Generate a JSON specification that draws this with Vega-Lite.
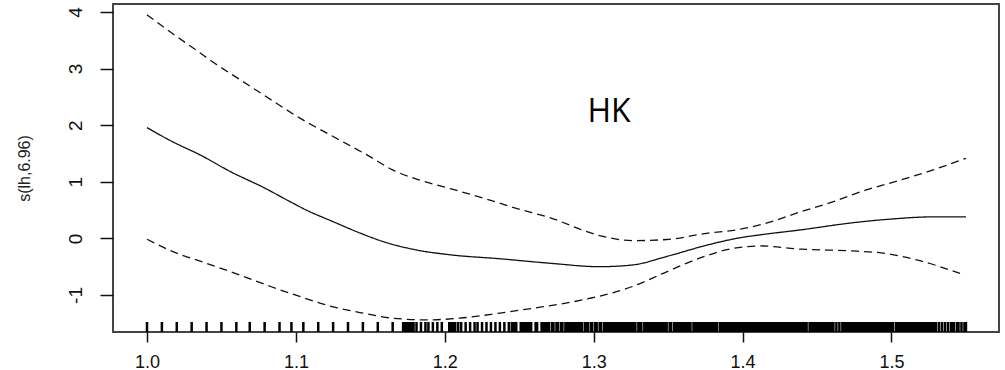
{
  "$schema": "https://vega.github.io/schema/vega-lite/v6.json",
  "width": 886,
  "height": 328,
  "autosize": "none",
  "padding": {"left": 113, "top": 4, "right": 6, "bottom": 38},
  "background": "white",
  "config": {
    "view": {"stroke": "#444", "strokeWidth": 2},
    "axis": {"grid": false, "domain": false},
    "font": "Liberation Sans"
  },
  "datasets": {
    "curves": [
      {"lh": 1.000, "s": 1.956, "band": "fit"},
      {"lh": 1.017, "s": 1.71, "band": "fit"},
      {"lh": 1.036, "s": 1.47, "band": "fit"},
      {"lh": 1.056, "s": 1.18, "band": "fit"},
      {"lh": 1.079, "s": 0.89, "band": "fit"},
      {"lh": 1.096, "s": 0.65, "band": "fit"},
      {"lh": 1.107, "s": 0.50, "band": "fit"},
      {"lh": 1.125, "s": 0.295, "band": "fit"},
      {"lh": 1.143, "s": 0.095, "band": "fit"},
      {"lh": 1.159, "s": -0.06, "band": "fit"},
      {"lh": 1.181, "s": -0.205, "band": "fit"},
      {"lh": 1.2035, "s": -0.29, "band": "fit"},
      {"lh": 1.237, "s": -0.36, "band": "fit"},
      {"lh": 1.271, "s": -0.44, "band": "fit"},
      {"lh": 1.304, "s": -0.50, "band": "fit"},
      {"lh": 1.326, "s": -0.47, "band": "fit"},
      {"lh": 1.349, "s": -0.32, "band": "fit"},
      {"lh": 1.376, "s": -0.12, "band": "fit"},
      {"lh": 1.398, "s": 0.01, "band": "fit"},
      {"lh": 1.414, "s": 0.07, "band": "fit"},
      {"lh": 1.439, "s": 0.15, "band": "fit"},
      {"lh": 1.472, "s": 0.27, "band": "fit"},
      {"lh": 1.499, "s": 0.34, "band": "fit"},
      {"lh": 1.528, "s": 0.38, "band": "fit"},
      {"lh": 1.550, "s": 0.38, "band": "fit"},
      {"lh": 1.000, "s": 3.95, "band": "upper"},
      {"lh": 1.0155, "s": 3.65, "band": "upper"},
      {"lh": 1.036, "s": 3.27, "band": "upper"},
      {"lh": 1.044, "s": 3.12, "band": "upper"},
      {"lh": 1.0645, "s": 2.77, "band": "upper"},
      {"lh": 1.085, "s": 2.42, "band": "upper"},
      {"lh": 1.103, "s": 2.12, "band": "upper"},
      {"lh": 1.125, "s": 1.80, "band": "upper"},
      {"lh": 1.148, "s": 1.47, "band": "upper"},
      {"lh": 1.165, "s": 1.21, "band": "upper"},
      {"lh": 1.183, "s": 1.03, "band": "upper"},
      {"lh": 1.2035, "s": 0.88, "band": "upper"},
      {"lh": 1.226, "s": 0.71, "band": "upper"},
      {"lh": 1.248, "s": 0.53, "band": "upper"},
      {"lh": 1.270, "s": 0.37, "band": "upper"},
      {"lh": 1.304, "s": 0.05, "band": "upper"},
      {"lh": 1.326, "s": -0.04, "band": "upper"},
      {"lh": 1.349, "s": -0.02, "band": "upper"},
      {"lh": 1.376, "s": 0.09, "band": "upper"},
      {"lh": 1.398, "s": 0.16, "band": "upper"},
      {"lh": 1.416, "s": 0.27, "band": "upper"},
      {"lh": 1.439, "s": 0.47, "band": "upper"},
      {"lh": 1.461, "s": 0.65, "band": "upper"},
      {"lh": 1.483, "s": 0.855, "band": "upper"},
      {"lh": 1.506, "s": 1.03, "band": "upper"},
      {"lh": 1.528, "s": 1.21, "band": "upper"},
      {"lh": 1.550, "s": 1.415, "band": "upper"},
      {"lh": 1.000, "s": -0.016, "band": "lower"},
      {"lh": 1.0175, "s": -0.235, "band": "lower"},
      {"lh": 1.040, "s": -0.44, "band": "lower"},
      {"lh": 1.0625, "s": -0.65, "band": "lower"},
      {"lh": 1.083, "s": -0.85, "band": "lower"},
      {"lh": 1.103, "s": -1.03, "band": "lower"},
      {"lh": 1.125, "s": -1.21, "band": "lower"},
      {"lh": 1.143, "s": -1.31, "band": "lower"},
      {"lh": 1.165, "s": -1.41, "band": "lower"},
      {"lh": 1.188, "s": -1.44, "band": "lower"},
      {"lh": 1.210, "s": -1.41, "band": "lower"},
      {"lh": 1.237, "s": -1.32, "band": "lower"},
      {"lh": 1.259, "s": -1.235, "band": "lower"},
      {"lh": 1.282, "s": -1.14, "band": "lower"},
      {"lh": 1.304, "s": -1.02, "band": "lower"},
      {"lh": 1.326, "s": -0.85, "band": "lower"},
      {"lh": 1.349, "s": -0.59, "band": "lower"},
      {"lh": 1.371, "s": -0.35, "band": "lower"},
      {"lh": 1.394, "s": -0.175, "band": "lower"},
      {"lh": 1.412, "s": -0.134, "band": "lower"},
      {"lh": 1.439, "s": -0.19, "band": "lower"},
      {"lh": 1.472, "s": -0.22, "band": "lower"},
      {"lh": 1.494, "s": -0.26, "band": "lower"},
      {"lh": 1.517, "s": -0.38, "band": "lower"},
      {"lh": 1.546, "s": -0.62, "band": "lower"}
    ],
    "rug": [
      {"lh":1.000},{"lh":1.010},{"lh":1.020},{"lh":1.030},{"lh":1.040},{"lh":1.050},{"lh":1.060},{"lh":1.069},{"lh":1.079},{"lh":1.089},{"lh":1.097},{"lh":1.105},{"lh":1.115},{"lh":1.125},{"lh":1.135},{"lh":1.145},{"lh":1.155},{"lh":1.165},
      {"lh":1.172},{"lh":1.173},{"lh":1.174},{"lh":1.175},{"lh":1.176},{"lh":1.177},{"lh":1.178},{"lh":1.179},
      {"lh":1.181},{"lh":1.184},{"lh":1.187},{"lh":1.189},{"lh":1.192},{"lh":1.195},{"lh":1.198},
      {"lh":1.203},{"lh":1.204},{"lh":1.205},{"lh":1.206},{"lh":1.207},
      {"lh":1.209},{"lh":1.211},{"lh":1.214},{"lh":1.217},{"lh":1.220},{"lh":1.222},{"lh":1.225},{"lh":1.228},{"lh":1.231},{"lh":1.234},{"lh":1.237},{"lh":1.240},{"lh":1.243},
      {"lh":1.245},{"lh":1.246},{"lh":1.247},{"lh":1.248},
      {"lh":1.251},{"lh":1.252},{"lh":1.253},{"lh":1.254},{"lh":1.255},{"lh":1.256},{"lh":1.257},{"lh":1.258},
      {"lh":1.261},{"lh":1.262},
      {"lh":1.265},{"lh":1.266},{"lh":1.267},{"lh":1.268},
      {"lh":1.269},{"lh":1.270},{"lh":1.272},{"lh":1.273},{"lh":1.275},{"lh":1.276},{"lh":1.278},{"lh":1.279},{"lh":1.281},{"lh":1.282},{"lh":1.283},{"lh":1.284},{"lh":1.285},{"lh":1.286},{"lh":1.287},{"lh":1.288},{"lh":1.289},{"lh":1.290},{"lh":1.291},{"lh":1.292},{"lh":1.294},{"lh":1.295},{"lh":1.296},{"lh":1.298},{"lh":1.299},{"lh":1.301},{"lh":1.302},{"lh":1.304},{"lh":1.305},{"lh":1.307},{"lh":1.308},{"lh":1.309},
      {"lh":1.310},{"lh":1.311},{"lh":1.312},{"lh":1.313},{"lh":1.314},{"lh":1.315},{"lh":1.316},{"lh":1.317},{"lh":1.318},{"lh":1.319},{"lh":1.320},{"lh":1.321},{"lh":1.322},{"lh":1.323},{"lh":1.324},{"lh":1.325},{"lh":1.326},{"lh":1.327},{"lh":1.328},{"lh":1.330},{"lh":1.331},{"lh":1.332},
      {"lh":1.334},{"lh":1.335},{"lh":1.336},{"lh":1.337},{"lh":1.338},{"lh":1.339},{"lh":1.340},{"lh":1.341},{"lh":1.342},{"lh":1.343},{"lh":1.344},{"lh":1.345},{"lh":1.346},{"lh":1.347},{"lh":1.348},{"lh":1.349},{"lh":1.351},{"lh":1.352},
      {"lh":1.354},{"lh":1.355},{"lh":1.356},{"lh":1.357},{"lh":1.358},{"lh":1.359},{"lh":1.360},{"lh":1.361},{"lh":1.362},{"lh":1.363},{"lh":1.364},{"lh":1.365},
      {"lh":1.367},{"lh":1.368},{"lh":1.369},{"lh":1.370},{"lh":1.371},{"lh":1.372},{"lh":1.373},{"lh":1.374},{"lh":1.375},{"lh":1.376},{"lh":1.377},{"lh":1.378},{"lh":1.379},{"lh":1.380},{"lh":1.381},{"lh":1.382},{"lh":1.383},
      {"lh":1.385},{"lh":1.386},{"lh":1.387},{"lh":1.388},{"lh":1.389},{"lh":1.390},{"lh":1.391},{"lh":1.392},{"lh":1.393},{"lh":1.394},{"lh":1.395},{"lh":1.396},{"lh":1.397},{"lh":1.398},{"lh":1.399},
      {"lh":1.400},{"lh":1.401},{"lh":1.402},{"lh":1.403},{"lh":1.404},{"lh":1.405},{"lh":1.406},{"lh":1.407},{"lh":1.408},{"lh":1.409},{"lh":1.410},{"lh":1.411},{"lh":1.412},{"lh":1.413},{"lh":1.414},{"lh":1.415},{"lh":1.416},{"lh":1.417},{"lh":1.418},{"lh":1.419},
      {"lh":1.420},{"lh":1.421},{"lh":1.422},{"lh":1.423},{"lh":1.424},{"lh":1.425},{"lh":1.426},{"lh":1.427},{"lh":1.428},{"lh":1.429},{"lh":1.430},{"lh":1.431},{"lh":1.432},{"lh":1.433},{"lh":1.434},{"lh":1.435},{"lh":1.436},{"lh":1.437},{"lh":1.438},{"lh":1.439},{"lh":1.440},{"lh":1.441},{"lh":1.442},{"lh":1.443},
      {"lh":1.445},{"lh":1.446},{"lh":1.447},{"lh":1.448},{"lh":1.449},{"lh":1.450},{"lh":1.451},{"lh":1.452},{"lh":1.453},{"lh":1.454},{"lh":1.455},{"lh":1.456},{"lh":1.457},{"lh":1.458},{"lh":1.459},{"lh":1.460},{"lh":1.461},
      {"lh":1.463},{"lh":1.465},
      {"lh":1.467},{"lh":1.468},{"lh":1.469},{"lh":1.470},{"lh":1.471},{"lh":1.472},{"lh":1.473},{"lh":1.474},{"lh":1.475},{"lh":1.476},{"lh":1.477},{"lh":1.478},{"lh":1.479},{"lh":1.480},{"lh":1.481},{"lh":1.482},{"lh":1.483},{"lh":1.484},{"lh":1.485},{"lh":1.486},{"lh":1.487},{"lh":1.488},{"lh":1.489},{"lh":1.490},{"lh":1.491},{"lh":1.492},{"lh":1.493},{"lh":1.494},{"lh":1.495},{"lh":1.496},{"lh":1.497},{"lh":1.498},{"lh":1.499},{"lh":1.500},{"lh":1.501},
      {"lh":1.503},{"lh":1.504},{"lh":1.505},{"lh":1.506},{"lh":1.507},{"lh":1.508},{"lh":1.509},{"lh":1.510},{"lh":1.511},{"lh":1.512},{"lh":1.513},{"lh":1.514},{"lh":1.515},{"lh":1.516},{"lh":1.517},{"lh":1.518},{"lh":1.519},{"lh":1.520},{"lh":1.521},{"lh":1.522},{"lh":1.523},{"lh":1.524},{"lh":1.525},{"lh":1.526},{"lh":1.527},{"lh":1.528},{"lh":1.529},{"lh":1.530},
      {"lh":1.532},{"lh":1.534},{"lh":1.536},{"lh":1.538},{"lh":1.540},{"lh":1.541},{"lh":1.542},{"lh":1.544},{"lh":1.545},{"lh":1.547},{"lh":1.549},{"lh":1.550}
    ],
    "label": [{"text": "HK"}]
  },
  "layer": [
    {
      "data": {"name": "curves"},
      "mark": {"type": "line", "strokeWidth": 1.3, "color": "#111", "interpolate": "monotone", "clip": true},
      "encoding": {
        "x": {
          "field": "lh", "type": "quantitative",
          "scale": {"domain": [0.97717, 1.5722], "nice": false, "zero": false},
          "axis": {
            "title": null, "values": [1.0, 1.1, 1.2, 1.3, 1.4, 1.5], "format": ".1f",
            "tickSize": 10, "tickColor": "#111", "tickWidth": 1.5,
            "labelFontSize": 18, "labelPadding": 11, "labelColor": "#111", "labelFont": "Liberation Sans"
          }
        },
        "y": {
          "field": "s", "type": "quantitative",
          "scale": {"domain": [-1.654, 4.141], "nice": false, "zero": false},
          "axis": {
            "title": "s(lh,6.96)", "values": [-1, 0, 1, 2, 3, 4], "labelExpr": "'' + datum.value",
            "tickSize": 13, "tickColor": "#111", "tickWidth": 1.5,
            "labelFontSize": 19, "labelPadding": 19, "labelColor": "#111", "labelFont": "Liberation Sans",
            "labelAngle": -90, "labelAlign": "center", "labelBaseline": "alphabetic",
            "titleFontSize": 16, "titleFontWeight": "normal", "titleColor": "#222", "titleFont": "Liberation Sans",
            "titleAngle": -90, "titleAlign": "center", "titleBaseline": "alphabetic",
            "titleX": -84, "titleY": 164
          }
        },
        "detail": {"field": "band", "type": "nominal"},
        "strokeDash": {
          "field": "band", "type": "nominal",
          "scale": {"domain": ["fit", "upper", "lower"], "range": [[1, 0], [8, 5], [8, 5]]},
          "legend": null
        }
      }
    },
    {
      "data": {"name": "rug"},
      "mark": {"type": "rule", "strokeWidth": 2.5, "color": "#000", "opacity": 1},
      "encoding": {
        "x": {"field": "lh", "type": "quantitative"},
        "y": {"datum": -1.654},
        "y2": {"datum": -1.477}
      }
    },
    {
      "data": {"name": "label"},
      "mark": {"type": "text", "font": "Open Sans", "fontSize": 32, "align": "center", "baseline": "alphabetic", "color": "#000"},
      "encoding": {
        "x": {"datum": 1.3103},
        "y": {"datum": 2.062},
        "text": {"field": "text", "type": "nominal"}
      }
    }
  ]
}
